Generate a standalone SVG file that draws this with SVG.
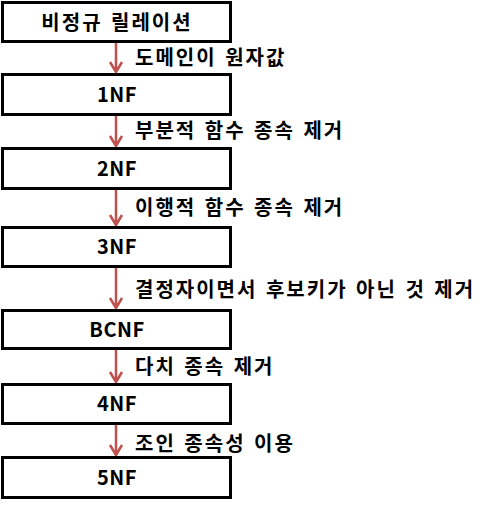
<svg xmlns="http://www.w3.org/2000/svg" width="491" height="512" viewBox="0 0 491 512">
<defs>
<style>
.box{fill:#fff;stroke:#000;stroke-width:3}
.t{font-family:"Noto Sans CJK KR","Malgun Gothic",sans-serif;font-weight:bold;font-size:20px;fill:#000;letter-spacing:2px;word-spacing:2px}
.c{text-anchor:middle}
.l{letter-spacing:0.5px}
.a{stroke:#c0504d;stroke-width:2.5;fill:none}
</style>
</defs>
<rect width="491" height="512" fill="#fff"/>
<g id="connectors">
<path class="a" d="M116 43V72M110 62L116 72L122 62"/>
<path class="a" d="M116 116V146M110 136L116 146L122 136"/>
<path class="a" d="M116 190V225M110 215L116 225L122 215"/>
<path class="a" d="M116 268V308M110 298L116 308L122 298"/>
<path class="a" d="M116 350V382M110 372L116 382L122 372"/>
<path class="a" d="M116 425V455M110 445L116 455L122 445"/>
<text class="t" x="135" y="65">도메인이 원자값</text>
<text class="t" x="135" y="138">부분적 함수 종속 제거</text>
<text class="t" x="135" y="215">이행적 함수 종속 제거</text>
<text class="t" x="135" y="297">결정자이면서 후보키가 아닌 것 제거</text>
<text class="t" x="135" y="374">다치 종속 제거</text>
<text class="t" x="135" y="451">조인 종속성 이용</text>
</g>
<g id="n0"><rect class="box" x="2.5" y="2.5" width="228" height="39"/><text class="t c" x="117" y="30">비정규 릴레이션</text></g>
<g id="n1"><rect class="box" x="2.5" y="74.5" width="228" height="40"/><text class="t c l" x="117" y="102">1NF</text></g>
<g id="n2"><rect class="box" x="2.5" y="148.5" width="228" height="40"/><text class="t c l" x="117" y="176">2NF</text></g>
<g id="n3"><rect class="box" x="2.5" y="227.5" width="228" height="39"/><text class="t c l" x="117" y="254">3NF</text></g>
<g id="n4"><rect class="box" x="2.5" y="310.5" width="228" height="38"/><text class="t c l" x="117" y="337">BCNF</text></g>
<g id="n5"><rect class="box" x="2.5" y="384.5" width="228" height="39"/><text class="t c l" x="117" y="411">4NF</text></g>
<g id="n6"><rect class="box" x="2.5" y="457.5" width="228" height="40"/><text class="t c l" x="117" y="485">5NF</text></g>
</svg>
